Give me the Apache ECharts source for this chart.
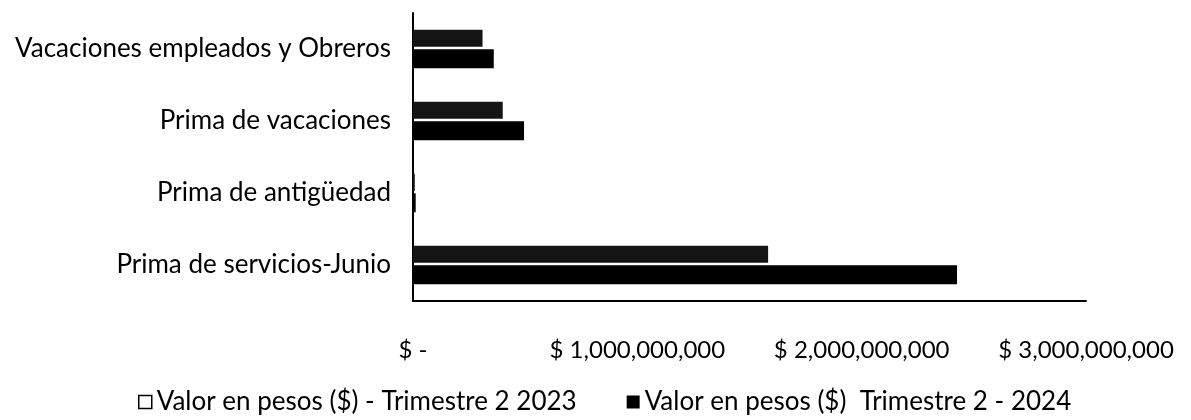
<!DOCTYPE html>
<html>
<head>
<meta charset="utf-8">
<script src="https://cdn.jsdelivr.net/npm/echarts@6/dist/echarts.min.js"></script>
<style>
  html, body { margin: 0; padding: 0; background: #fff; }
  #chart { width: 1191px; height: 420px; }
</style>
</head>
<body>
<div id="chart"></div>
<script>
let categories = ['Prima de servicios-Junio', 'Prima de antigüedad', 'Prima de vacaciones', 'Vacaciones empleados y Obreros'];
let valores2023 = [1583000000, 8000000, 400000000, 310000000];
let valores2024 = [2425000000, 12000000, 495000000, 360000000];
let seriesNames = ['Valor en pesos ($) - Trimestre 2 2023', 'Valor en pesos ($)  Trimestre 2 - 2024'];

let fontFamily = 'Lato, "Open Sans", sans-serif';

let formatPesos = v => {
    if (v === 0) return '$ -';
    return '$ ' + v.toLocaleString('en-US');
};

let myChart = echarts.init(document.getElementById('chart'));
myChart.setOption({
    animation: false,
    grid: {
        left: 413,
        right: 105,
        top: 13,
        bottom: 119
    },
    legend: {
        bottom: 0,
        left: 133,
        itemGap: 50,
        itemWidth: 13,
        itemHeight: 13,
        textStyle: {
            color: '#000',
            fontSize: 26,
            fontFamily: fontFamily
        },
        data: [
            { name: seriesNames[0], icon: 'rect', itemStyle: { color: '#fff', borderColor: '#000', borderWidth: 1.5 } },
            { name: seriesNames[1], icon: 'rect', itemStyle: { color: '#000' } }
        ]
    },
    xAxis: {
        type: 'value',
        min: 0,
        max: 3000000000,
        interval: 1000000000,
        axisLine: {
            show: true,
            lineStyle: { color: '#000', width: 2 }
        },
        axisTick: { show: false },
        splitLine: { show: false },
        axisLabel: {
            color: '#000',
            fontSize: 24,
            fontFamily: fontFamily,
            margin: 37,
            formatter: formatPesos
        }
    },
    yAxis: {
        type: 'category',
        data: categories,
        axisLine: {
            show: true,
            lineStyle: { color: '#000', width: 2 }
        },
        axisTick: { show: false },
        axisLabel: {
            color: '#000',
            fontSize: 26,
            fontFamily: fontFamily,
            margin: 22
        }
    },
    series: [
        {
            name: seriesNames[0],
            type: 'bar',
            data: valores2023,
            barWidth: 17,
            barGap: '15%',
            itemStyle: {
                color: '#151515'
            }
        },
        {
            name: seriesNames[1],
            type: 'bar',
            data: valores2024,
            barWidth: 19,
            itemStyle: {
                color: '#000'
            }
        }
    ]
});
</script>
</body>
</html>
